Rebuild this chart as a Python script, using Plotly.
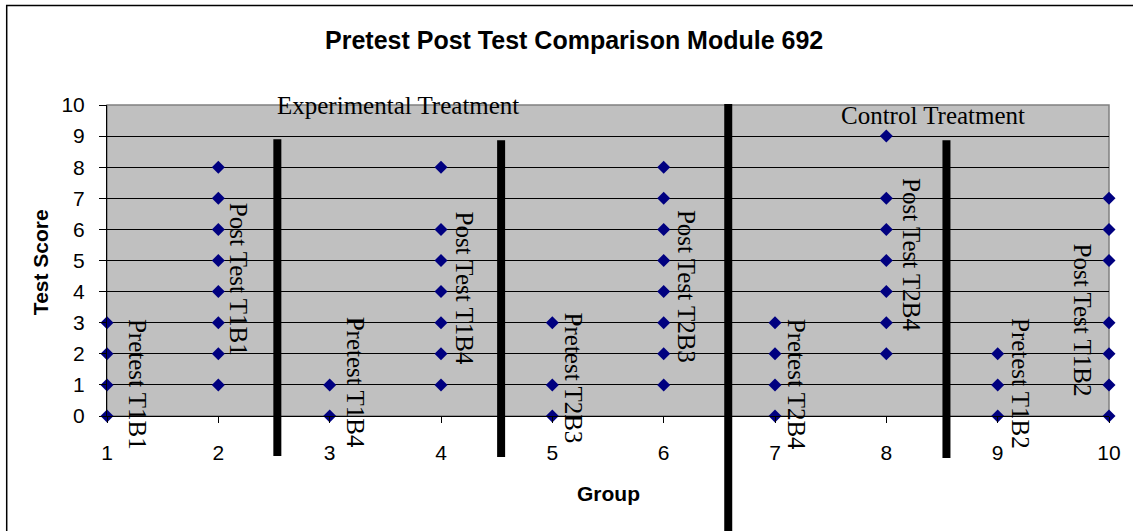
import plotly.graph_objects as go

# ---- data ----
groups = [1, 2, 3, 4, 5, 6, 7, 8, 9, 10]
group_labels = ["Pretest T1B1", "Post Test T1B1", "Pretest T1B4", "Post Test T1B4",
                "Pretest T2B3", "Post Test T2B3", "Pretest T2B4", "Post Test T2B4",
                "Pretest T1B2", "Post Test T1B2"]
scores = [
    [0, 1, 2, 3],
    [1, 2, 3, 4, 5, 6, 7, 8],
    [0, 1],
    [1, 2, 3, 4, 5, 6, 8],
    [0, 1, 3],
    [1, 2, 3, 4, 5, 6, 7, 8],
    [0, 1, 2, 3],
    [2, 3, 4, 5, 6, 7, 9],
    [0, 1, 2],
    [0, 1, 2, 3, 5, 6, 7],
]
x_ticks = [1, 2, 3, 4, 5, 6, 7, 8, 9, 10]
y_ticks = [0, 1, 2, 3, 4, 5, 6, 7, 8, 9, 10]
title_text = "Pretest Post Test Comparison Module 692"
x_title = "Group"
y_title = "Test Score"
treatments = ["Experimental Treatment", "Control Treatment"]

# label placement (data coordinates) for the rotated group labels
label_pos = [(1.27, 1.03), (2.18, 4.40), (3.24, 1.09), (4.21, 4.12), (5.19, 1.22),
             (6.21, 4.18), (7.19, 1.03), (8.22, 5.18), (9.21, 1.06), (9.76, 3.09)]
# divider lines: (x, y_top, y_bottom) in data units
dividers = [(2.53, 8.90, -1.29), (4.54, 8.87, -1.32), (6.58, 10.03, -4.0), (8.54, 8.87, -1.35)]

xs, ys = [], []
for g, sc in zip(groups, scores):
    for s in sc:
        xs.append(g)
        ys.append(s)

fig = go.Figure()
fig.add_trace(go.Scatter(
    x=xs, y=ys, mode="markers",
    marker=dict(symbol="diamond", size=10, color="#000080", line=dict(width=0)),
    cliponaxis=False, showlegend=False, hoverinfo="x+y"))

L, R, T, B = 107, 22, 105, 115
W, H = 1133, 531
pw, ph = W - L - R, H - T - B
x_range = [1, 10]
y_range = [0, 10]

def px2paper_x(px):
    return (px - L) / pw

def px2paper_y(py):
    return (H - B - py) / ph

def data2paper_x(v):
    return (v - x_range[0]) / (x_range[1] - x_range[0])

def data2paper_y(v):
    return (v - y_range[0]) / (y_range[1] - y_range[0])

shapes = []
# chart border
shapes.append(dict(type="rect", xref="paper", yref="paper",
                   x0=px2paper_x(6.5), x1=px2paper_x(1150), y0=px2paper_y(545), y1=px2paper_y(5.5),
                   line=dict(color="black", width=1.5), layer="below"))
# plot area border (gray)
shapes.append(dict(type="rect", xref="paper", yref="paper", x0=0, x1=1, y0=0, y1=1,
                   line=dict(color="#808080", width=1.5), layer="below"))
for xv, yt, yb in dividers:
    shapes.append(dict(type="line", xref="paper", yref="paper",
                       x0=data2paper_x(xv), x1=data2paper_x(xv),
                       y0=data2paper_y(yb), y1=data2paper_y(yt),
                       line=dict(color="black", width=8), layer="above"))

annotations = []
annotations.append(dict(text=f"<b>{title_text}</b>", xref="paper", yref="paper",
                        x=px2paper_x(575), y=px2paper_y(40), showarrow=False,
                        xanchor="center", yanchor="middle",
                        font=dict(family="Liberation Sans, Arial", size=25, color="black")))
annotations.append(dict(text=f"<b>{x_title}</b>", xref="paper", yref="paper",
                        x=px2paper_x(609), y=px2paper_y(493), showarrow=False,
                        xanchor="center", yanchor="middle",
                        font=dict(family="Liberation Sans, Arial", size=21, color="black")))
annotations.append(dict(text=f"<b>{y_title}</b>", xref="paper", yref="paper",
                        x=px2paper_x(40), y=px2paper_y(262), showarrow=False, textangle=-90,
                        xanchor="center", yanchor="middle",
                        font=dict(family="Liberation Sans, Arial", size=21, color="black")))
annotations.append(dict(text=treatments[0], xref="x", yref="y", x=3.61, y=10.0,
                        showarrow=False, xanchor="center", yanchor="middle",
                        font=dict(family="Liberation Serif, Times New Roman", size=25, color="black")))
annotations.append(dict(text=treatments[1], xref="x", yref="y", x=8.42, y=9.65,
                        showarrow=False, xanchor="center", yanchor="middle",
                        font=dict(family="Liberation Serif, Times New Roman", size=25, color="black")))
for lab, (lx, ly) in zip(group_labels, label_pos):
    annotations.append(dict(text=lab, xref="x", yref="y", x=lx, y=ly, textangle=90,
                            showarrow=False, xanchor="center", yanchor="middle",
                            font=dict(family="Liberation Serif, Times New Roman", size=25, color="black")))

fig.update_layout(
    width=W, height=H,
    margin=dict(l=L, r=R, t=T, b=B, pad=0),
    paper_bgcolor="white", plot_bgcolor="#C0C0C0",
    shapes=shapes, annotations=annotations,
    font=dict(family="Liberation Sans, Arial", size=21, color="black"),
    xaxis=dict(range=x_range, tickvals=x_ticks, ticktext=[str(v) for v in x_ticks],
               showgrid=False, zeroline=False, showline=True, linecolor="black", linewidth=1,
               ticks="outside", ticklen=6, tickcolor="black", ticklabelstandoff=12,
               tickfont=dict(size=21)),
    yaxis=dict(range=y_range, tickvals=y_ticks, showgrid=True, gridcolor="black", gridwidth=1,
               zeroline=False, showline=True, linecolor="black", linewidth=1,
               ticks="outside", ticklen=7, tickcolor="black", ticklabelstandoff=10,
               tickfont=dict(size=21)),
)

fig.write_html("out.html", config={"displayModeBar": False},
               post_script="document.body.style.margin='0';document.body.style.overflow='hidden';")
